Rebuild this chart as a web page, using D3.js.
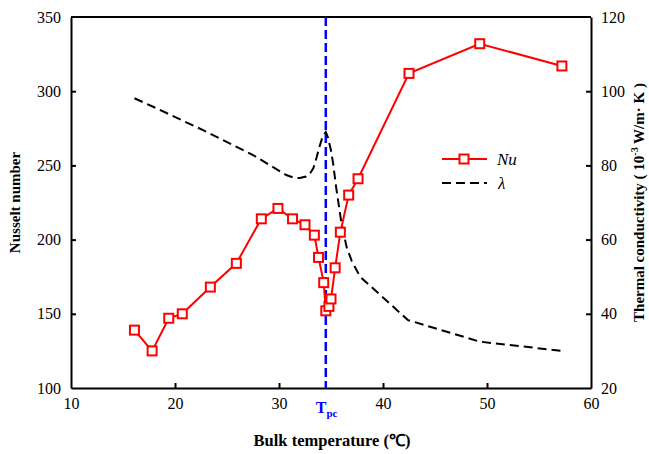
<!DOCTYPE html>
<html><head><meta charset="utf-8">
<script src="https://cdn.jsdelivr.net/npm/d3@7"></script>
<style>body{margin:0;background:#fff}svg{display:block}text{font-family:"Liberation Serif","Times New Roman",serif}</style>
</head><body>
<svg id="c" width="649" height="454"></svg>
<script>
// Data
const nuTemps = [16.1, 17.8, 19.4, 20.7, 23.4, 25.9, 28.3, 29.9, 31.3, 32.5, 33.4, 33.8, 34.3, 34.5, 34.8, 35.0, 35.4, 35.9, 36.7, 37.6, 42.5, 49.3, 57.2];
const nuValues = [139, 125, 147, 150, 168, 184, 214, 221, 214, 210, 203, 188, 171, 152, 155, 160, 181, 205, 230, 241, 312, 332, 317];
const lamTemps = [16.1, 17.9, 22.7, 27.5, 30.7, 31.4, 32.0, 32.6, 33.0, 33.3, 33.6, 33.9, 34.2, 34.5, 34.7, 35.0, 35.2, 35.5, 36.0, 36.5, 37.0, 37.8, 42.4, 49.3, 57.2];
const lamValues = [98.1, 95.8, 89.5, 82.8, 77.4, 76.7, 76.6, 77.0, 77.9, 79.2, 82.0, 85.1, 87.8, 89.0, 87.6, 84.0, 80.6, 74.0, 64.5, 58.0, 54.2, 50.0, 38.3, 32.5, 30.0];
const xTicks = [10, 20, 30, 40, 50, 60];
const nuTicks = [100, 150, 200, 250, 300, 350];
const lamTicks = [20, 40, 60, 80, 100, 120];
const tpc = 34.5;

const svg = d3.select("#c");
const L = 71, R = 591, T = 17, B = 388;
const x = d3.scaleLinear().domain([10, 60]).range([L, R]);
const yNu = d3.scaleLinear().domain([100, 350]).range([B, T]);
const yLam = d3.scaleLinear().domain([20, 120]).range([B, T]);

// Axes
const gx = svg.append("g").attr("transform", `translate(0,${B})`)
  .call(d3.axisBottom(x).tickValues(xTicks).tickSizeInner(-5).tickSizeOuter(0).tickPadding(10));
const gl = svg.append("g").attr("transform", `translate(${L},0)`)
  .call(d3.axisLeft(yNu).tickValues(nuTicks).tickSizeInner(-5).tickSizeOuter(0).tickPadding(10));
const gr = svg.append("g").attr("transform", `translate(${R},0)`)
  .call(d3.axisRight(yLam).tickValues(lamTicks).tickSizeInner(-5).tickSizeOuter(0).tickPadding(10));
[gx, gl, gr].forEach(g => {
  g.select(".domain").attr("stroke", "#000").attr("stroke-width", 2);
  g.selectAll(".tick line").attr("stroke", "#000").attr("stroke-width", 2);
  g.selectAll(".tick text").attr("font-size", 16).attr("fill", "#000")
   .style("font-family", '"Liberation Serif",serif');
});
gx.selectAll(".tick").filter(d => d === 10 || d === 60).select("line").remove();
gl.selectAll(".tick").filter(d => d === 100 || d === 350).select("line").remove();
gr.selectAll(".tick").filter(d => d === 20 || d === 120).select("line").remove();
svg.append("line").attr("x1", L).attr("x2", R).attr("y1", T).attr("y2", T)
  .attr("stroke", "#000").attr("stroke-width", 2);

// Tpc line
svg.append("line").attr("x1", x(tpc)).attr("x2", x(tpc)).attr("y1", T).attr("y2", B)
  .attr("stroke", "#0000ff").attr("stroke-width", 2.5).attr("stroke-dasharray", "9,4");

// lambda curve
svg.append("path").datum(lamTemps.map((t, i) => [t, lamValues[i]]))
  .attr("d", d3.line().x(d => x(d[0])).y(d => yLam(d[1])))
  .attr("fill", "none").attr("stroke", "#000").attr("stroke-width", 2).attr("stroke-dasharray", "9,5");

// Nu line
const nuData = nuTemps.map((t, i) => [t, nuValues[i]]);
svg.append("path").datum(nuData)
  .attr("d", d3.line().x(d => x(d[0])).y(d => yNu(d[1])))
  .attr("fill", "none").attr("stroke", "#ff0000").attr("stroke-width", 2);
const s = 9;
svg.selectAll("rect.m").data(nuData).enter().append("rect").attr("class", "m")
  .attr("x", d => x(d[0]) - s / 2).attr("y", d => yNu(d[1]) - s / 2)
  .attr("width", s).attr("height", s)
  .attr("fill", "#fff").attr("stroke", "#ff0000").attr("stroke-width", 2);

// Legend
const lg = svg.append("g");
lg.append("line").attr("x1", 442).attr("x2", 487).attr("y1", 159).attr("y2", 159)
  .attr("stroke", "#ff0000").attr("stroke-width", 2);
lg.append("rect").attr("x", 464 - s / 2).attr("y", 159 - s / 2).attr("width", s).attr("height", s)
  .attr("fill", "#fff").attr("stroke", "#ff0000").attr("stroke-width", 2);
lg.append("text").attr("x", 497).attr("y", 165).attr("font-size", 17).attr("font-style", "italic").text("Nu");
lg.append("line").attr("x1", 442).attr("x2", 487).attr("y1", 183).attr("y2", 183)
  .attr("stroke", "#000").attr("stroke-width", 2).attr("stroke-dasharray", "9,5");
lg.append("text").attr("x", 498).attr("y", 189).attr("font-size", 17).attr("font-style", "italic").text("λ");

// Tpc label
const tl = svg.append("text").attr("x", x(tpc) - 10).attr("y", 413).attr("fill", "#0000ff")
  .attr("font-weight", "bold").attr("font-size", 16);
tl.append("tspan").text("T");
tl.append("tspan").attr("font-size", 11).attr("dy", 4).text("pc");

// Axis titles
svg.append("text").attr("x", (L + R) / 2 + 1).attr("y", 446).attr("text-anchor", "middle")
  .attr("font-weight", "bold").attr("font-size", 16.5).text("Bulk temperature (℃)");
svg.append("text").attr("transform", `translate(20,${(T + B) / 2}) rotate(-90)`)
  .attr("text-anchor", "middle").attr("font-weight", "bold").attr("font-size", 15).text("Nusselt number");
const rt = svg.append("text").attr("transform", `translate(644,${(T + B) / 2}) rotate(-90)`)
  .attr("text-anchor", "middle").attr("font-weight", "bold").attr("font-size", 15);
rt.append("tspan").text("Thermal conductivity ( 10");
rt.append("tspan").attr("font-size", 10).attr("dy", -6).text("-3");
rt.append("tspan").attr("dy", 6).text(" W/m· K )");
</script>
</body></html>
